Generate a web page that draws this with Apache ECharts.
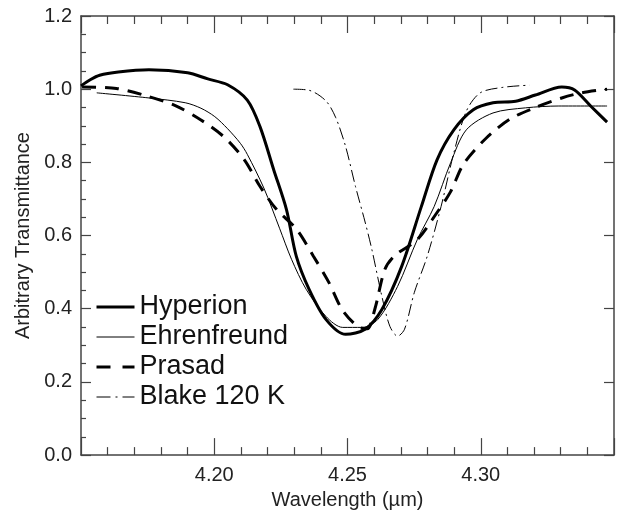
<!DOCTYPE html>
<html>
<head>
<meta charset="utf-8">
<script src="https://cdn.jsdelivr.net/npm/echarts@6/dist/echarts.min.js"></script>
<style>
  html, body { margin: 0; padding: 0; background: #fff; }
  #chart { width: 617px; height: 515px; }
</style>
</head>
<body>
<div id="chart"></div>
<script>
// wavelength (um), transmittance
const hyperion = [
  [4.150, 1.009], [4.1533, 1.025], [4.157, 1.038], [4.164, 1.047], [4.1755, 1.053],
  [4.190, 1.045], [4.1976, 1.028], [4.205, 1.012], [4.2124, 0.970], [4.2172, 0.897],
  [4.2223, 0.780], [4.2271, 0.671], [4.2308, 0.543], [4.2356, 0.453], [4.2419, 0.371],
  [4.2493, 0.330], [4.2566, 0.344], [4.2629, 0.398], [4.2703, 0.515], [4.2777, 0.679],
  [4.2836, 0.807], [4.2899, 0.889], [4.2972, 0.944], [4.3046, 0.963], [4.3131, 0.967],
  [4.3205, 0.984], [4.3304, 1.006], [4.3352, 0.998], [4.3415, 0.952], [4.3474, 0.910]
];
const ehrenfreund = [
  [4.1559, 0.990], [4.1755, 0.976], [4.1891, 0.963], [4.195, 0.948], [4.2002, 0.925],
  [4.205, 0.892], [4.2098, 0.852], [4.2124, 0.822], [4.2186, 0.730], [4.2245, 0.620],
  [4.229, 0.535], [4.2345, 0.453], [4.2419, 0.379], [4.2482, 0.349], [4.2555, 0.349],
  [4.2614, 0.371], [4.2688, 0.461], [4.2762, 0.589], [4.2825, 0.679], [4.2887, 0.799],
  [4.2946, 0.889], [4.3046, 0.935], [4.3168, 0.949], [4.3293, 0.954], [4.3474, 0.954]
];
const prasad = [
  [4.1504, 1.006], [4.1633, 1.002], [4.1744, 0.982], [4.1854, 0.955], [4.195, 0.916],
  [4.2039, 0.868], [4.2113, 0.807], [4.2172, 0.734], [4.2234, 0.671], [4.2308, 0.618],
  [4.2371, 0.545], [4.243, 0.472], [4.2482, 0.395], [4.2541, 0.350], [4.2574, 0.345],
  [4.2603, 0.400], [4.264, 0.507], [4.2677, 0.545], [4.2762, 0.589], [4.2836, 0.663],
  [4.2887, 0.720], [4.2935, 0.795], [4.302, 0.866], [4.3109, 0.918], [4.3205, 0.950],
  [4.3304, 0.976], [4.3378, 0.990], [4.3474, 1.000]
];
const blake = [
  [4.2297, 1.000], [4.2356, 0.997], [4.2419, 0.968], [4.2456, 0.922], [4.2493, 0.843],
  [4.253, 0.734], [4.2566, 0.637], [4.2592, 0.560], [4.2629, 0.434], [4.2659, 0.352],
  [4.2688, 0.325], [4.2714, 0.344], [4.2751, 0.445], [4.2799, 0.543], [4.2851, 0.679],
  [4.2899, 0.826], [4.2946, 0.940], [4.2998, 0.990], [4.3083, 1.005], [4.3183, 1.011]
];

const font = "'Liberation Sans', Arial, sans-serif";
const axisColor = '#444';

let chart = echarts.init(document.getElementById('chart'));

let xCommon = {
  type: 'value',
  min: 4.15,
  max: 4.35,
  interval: 0.05,
  axisLine: { show: true, onZero: false, lineStyle: { color: axisColor, width: 1.5 } },
  axisTick: { show: true, inside: true, length: 17, lineStyle: { color: axisColor, width: 1.2 } },
  minorTick: { show: true, splitNumber: 5, length: 8, lineStyle: { color: axisColor, width: 1.2 } },
  splitLine: { show: false },
  minorSplitLine: { show: false }
};
let yCommon = {
  type: 'value',
  min: 0,
  max: 1.2,
  interval: 0.2,
  axisLine: { show: true, onZero: false, lineStyle: { color: axisColor, width: 1.5 } },
  axisTick: { show: true, inside: true, length: 10, lineStyle: { color: axisColor, width: 1.2 } },
  minorTick: { show: true, splitNumber: 4, length: 5, lineStyle: { color: axisColor, width: 1.2 } },
  splitLine: { show: false },
  minorSplitLine: { show: false }
};

// legend: line sample only, no marker
const noMarker = { color: 'rgba(0,0,0,0)', borderWidth: 0, opacity: 0 };

let option = {
  animation: false,
  backgroundColor: '#fff',
  grid: { left: 81, top: 16, right: -6, bottom: 59, containLabel: false },
  legend: {
    orient: 'vertical',
    left: 95,
    top: 292,
    padding: 0,
    itemGap: 0,
    itemWidth: 38,
    itemHeight: 14,
    itemStyle: noMarker,
    textStyle: { fontFamily: font, fontSize: 27, color: '#111', lineHeight: 30 },
    data: [
      { name: 'Hyperion', itemStyle: noMarker, lineStyle: { width: 3, type: 'solid' } },
      { name: 'Ehrenfreund', itemStyle: noMarker, lineStyle: { width: 1, type: 'solid' } },
      { name: 'Prasad', itemStyle: noMarker, lineStyle: { width: 3, type: [14, 12] } },
      { name: 'Blake 120 K', itemStyle: noMarker, lineStyle: { width: 1, type: [14, 5, 2, 5] } }
    ]
  },
  xAxis: [
    Object.assign({}, xCommon, {
      position: 'bottom',
      name: 'Wavelength (\u00b5m)',
      nameLocation: 'middle',
      nameGap: 28,
      nameTextStyle: { fontFamily: font, fontSize: 20, color: '#222' },
      axisLabel: {
        margin: 10,
        fontFamily: font, fontSize: 20, color: '#222',
        formatter: function (v) {
          if (Math.abs(v - 4.15) < 1e-6 || Math.abs(v - 4.35) < 1e-6) return '';
          return v.toFixed(2);
        }
      }
    }),
    Object.assign({}, xCommon, {
      position: 'top',
      axisLabel: { show: false }
    })
  ],
  yAxis: [
    Object.assign({}, yCommon, {
      position: 'left',
      name: 'Arbitrary Transmittance',
      nameLocation: 'middle',
      nameGap: 48,
      nameTextStyle: { fontFamily: font, fontSize: 20, color: '#222' },
      axisLabel: {
        margin: 9,
        fontFamily: font, fontSize: 20, color: '#222',
        formatter: function (v) { return v.toFixed(1); }
      }
    }),
    Object.assign({}, yCommon, {
      position: 'right',
      axisLabel: { show: false },
      minorTick: { show: false }
    })
  ],
  series: [
    {
      name: 'Hyperion', type: 'line', data: hyperion, symbol: 'none', smooth: 0.3,
      lineStyle: { color: '#000', width: 3 }, itemStyle: { color: '#000' }, z: 4
    },
    {
      name: 'Ehrenfreund', type: 'line', data: ehrenfreund, symbol: 'none', smooth: 0.3,
      lineStyle: { color: '#000', width: 1 }, itemStyle: { color: '#000' }, z: 3
    },
    {
      name: 'Prasad', type: 'line', data: prasad, symbol: 'none', smooth: 0.3,
      lineStyle: { color: '#000', width: 3, type: [14, 9] }, itemStyle: { color: '#000' }, z: 2
    },
    {
      name: 'Blake 120 K', type: 'line', data: blake, symbol: 'none', smooth: 0.3,
      lineStyle: { color: '#000', width: 1, type: [12, 4, 2, 4] }, itemStyle: { color: '#000' }, z: 1
    }
  ]
};

chart.setOption(option);
</script>
</body>
</html>
